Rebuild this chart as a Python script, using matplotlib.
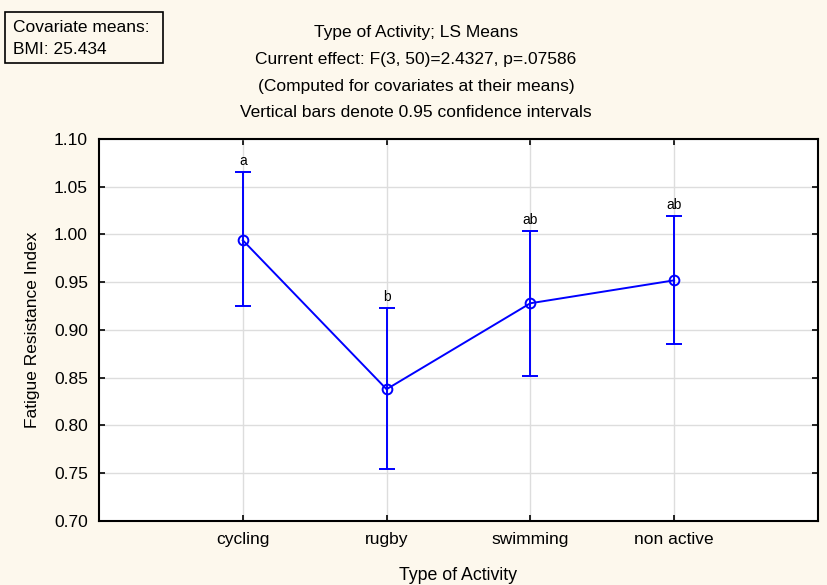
import numpy as np
import matplotlib
matplotlib.use("Agg")
from matplotlib import pyplot as plt
from matplotlib.patches import Rectangle

plt.rcParams["font.family"] = ["Liberation Sans", "DejaVu Sans"]

# LS means with 0.95 confidence limits
categories = ["cycling", "rugby", "swimming", "non active"]
means = [0.994, 0.838, 0.928, 0.952]
upper = [1.065, 0.923, 1.004, 1.019]
lower = [0.925, 0.754, 0.852, 0.885]
letters = ["a", "b", "ab", "ab"]
yticks = [0.70, 0.75, 0.80, 0.85, 0.90, 0.95, 1.00, 1.05, 1.10]

title_lines = ["Type of Activity; LS Means",
               "Current effect: F(3, 50)=2.4327, p=.07586",
               "(Computed for covariates at their means)",
               "Vertical bars denote 0.95 confidence intervals"]

BG = "#fdf8ed"
W, H = 827, 585
FS = 12.5

fig = plt.figure(figsize=(8.27, 5.85), dpi=100, facecolor=BG)
ax = fig.add_axes([0.1197, 0.1094, 0.8693, 0.653])
ax.set_facecolor("white")

x = np.arange(1, len(categories) + 1)
m = np.array(means)
err = [m - np.array(lower), np.array(upper) - m]
ax.errorbar(x, m, yerr=err, color="#0000ff", lw=1.4, elinewidth=1.4,
            capsize=5.5, capthick=1.4, marker="o", markersize=7,
            markerfacecolor="none", markeredgewidth=1.4, zorder=3)

for xi, top, lab in zip(x, upper, letters):
    ax.annotate(lab, (xi, top), xytext=(0, 3), textcoords="offset points",
                ha="center", va="bottom", fontsize=10)

ax.set_xlim(0, 5)
ax.set_ylim(0.70, 1.10)
ax.set_xticks(x)
ax.set_xticklabels(categories, fontsize=FS)
ax.set_yticks(yticks)
ax.set_yticklabels(["%.2f" % v for v in yticks], fontsize=FS)
ax.tick_params(direction="in", length=4, width=1.2, top=True, right=True,
               pad=8, color="black")
ax.grid(True, color="#dddddd", lw=1)
ax.set_axisbelow(True)
for s in ax.spines.values():
    s.set_linewidth(1.5)

ax.set_xlabel("Type of Activity", fontsize=12.8, labelpad=14)
ax.set_ylabel("Fatigue Resistance Index", fontsize=FS, labelpad=10)

# Title block
for i, line in enumerate(title_lines):
    fig.text(416 / W, 1 - (33 + i * 26.5) / H, line, ha="center", va="center",
             fontsize=FS)

# Covariate box
fig.patches.append(Rectangle((5 / W, 1 - 63 / H), 158 / W, 51 / H,
                             transform=fig.transFigure, facecolor=BG,
                             edgecolor="black", lw=1.2))
fig.text(13 / W, 1 - 28 / H, "Covariate means:", ha="left", va="center",
         fontsize=FS)
fig.text(13 / W, 1 - 50 / H, "BMI: 25.434", ha="left", va="center",
         fontsize=FS)

fig.savefig("out.png", dpi=100, facecolor=BG)
